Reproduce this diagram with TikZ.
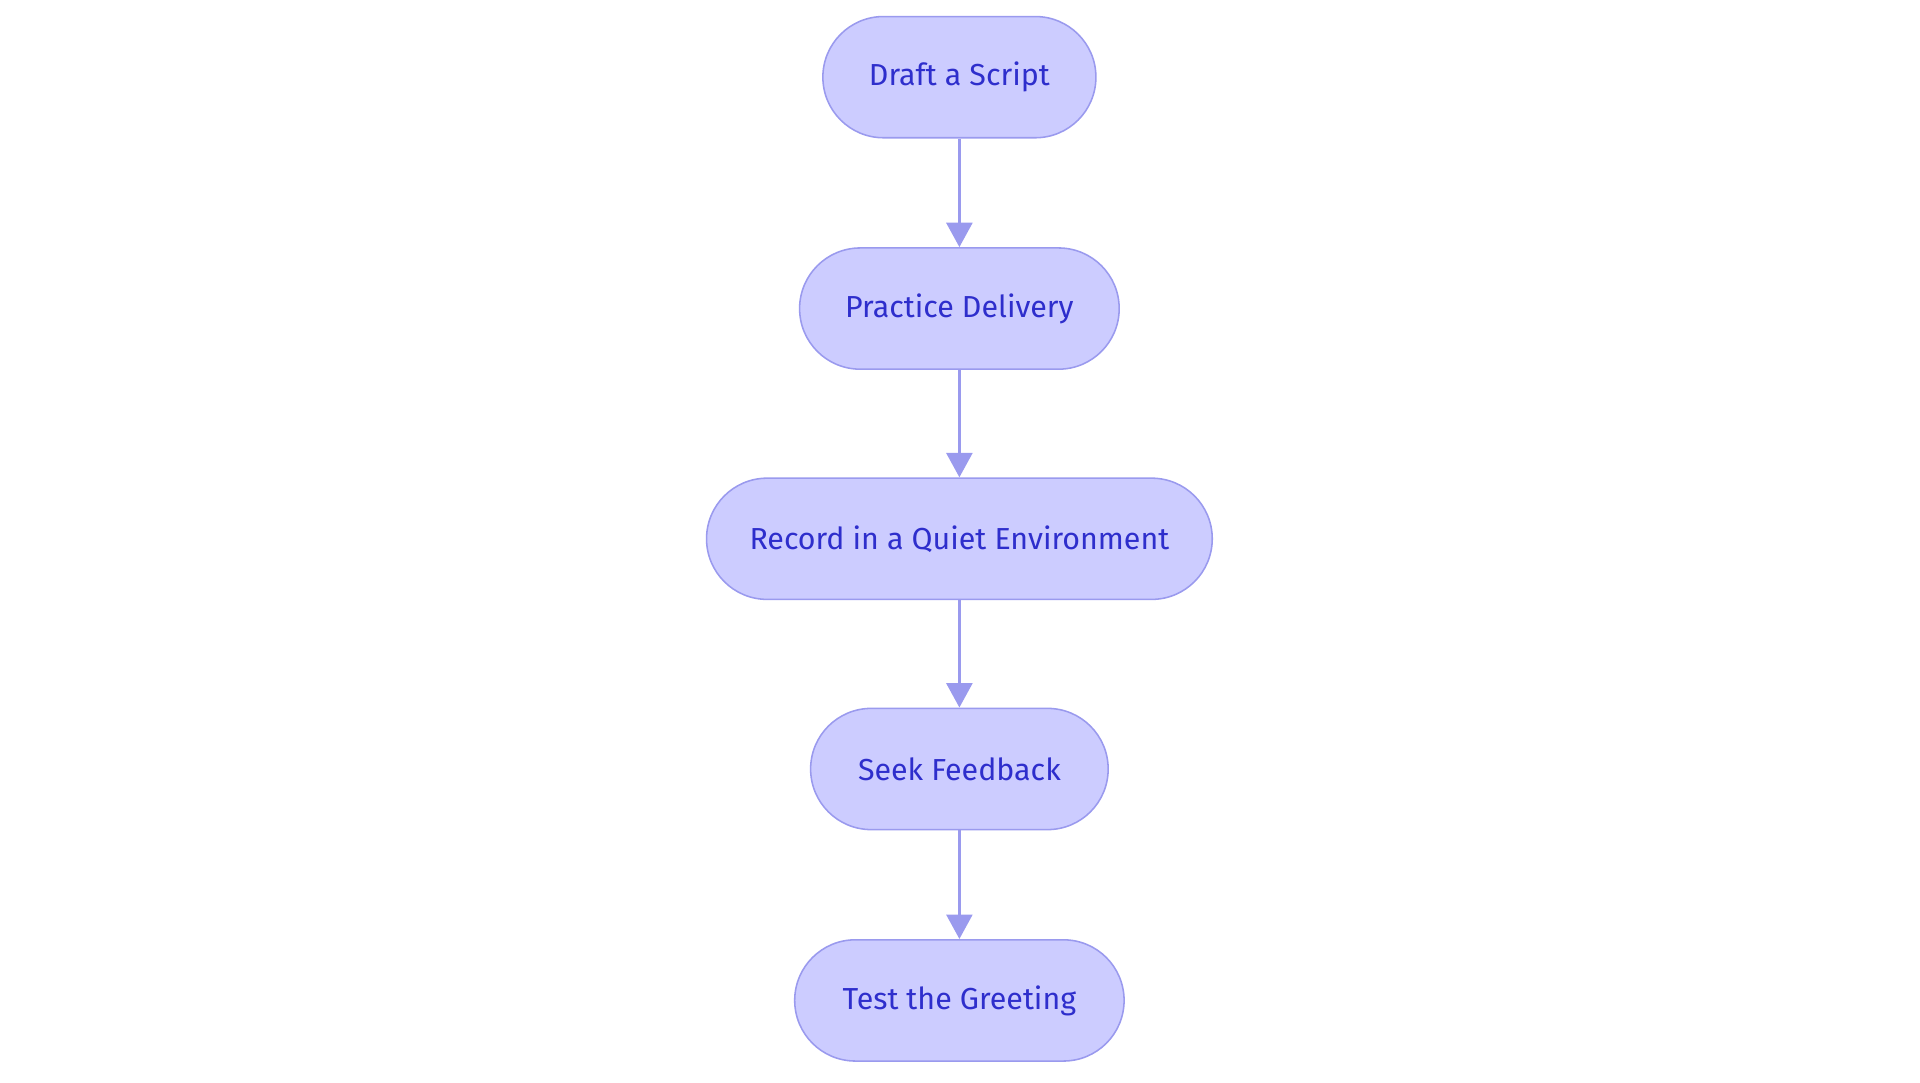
\documentclass[tikz,border=0pt]{standalone}
\usepackage{fontspec}
\setmainfont{Fira Sans}
\usetikzlibrary{arrows.meta}
\definecolor{nfill}{HTML}{CCCCFF}
\definecolor{nline}{HTML}{9A9AEE}
\definecolor{ntext}{HTML}{2E2ECC}
\begin{document}
\begin{tikzpicture}[x=0.05cm,y=-0.05cm,
 box/.style={draw=nline,line width=1.8pt,fill=nfill,text=ntext,rounded corners=49.5*0.05cm,minimum height=99*0.05cm,inner sep=0pt,font=\fontsize{35.3}{42}\selectfont},
 arr/.style={draw=nline,line width=4.2pt,-{Triangle[length=1.0cm,width=1.05cm]}}]
\useasboundingbox (0,0) rectangle (1568,884);
\node[box,minimum width=223*0.05cm] (a) at (783.5,63) {Draft a Script};
\node[box,minimum width=261*0.05cm] (b) at (783.5,252) {Practice Delivery};
\node[box,minimum width=413*0.05cm] (c) at (783.5,440) {Record in a Quiet Environment};
\node[box,minimum width=243*0.05cm] (d) at (783.5,628) {Seek Feedback};
\node[box,minimum width=269*0.05cm] (e) at (783.5,817) {Test the Greeting};
\draw[arr] (a) -- (b);
\draw[arr] (b) -- (c);
\draw[arr] (c) -- (d);
\draw[arr] (d) -- (e);
\end{tikzpicture}
\end{document}
